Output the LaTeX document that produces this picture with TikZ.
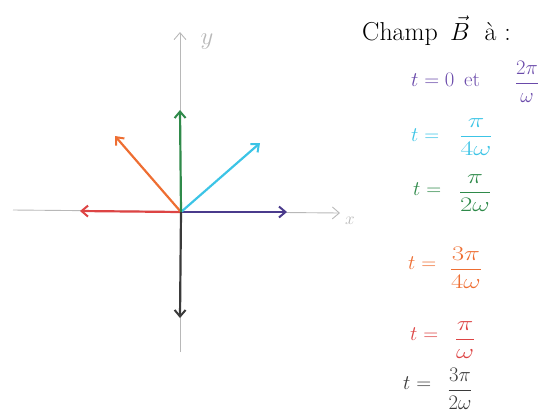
\documentclass[tikz,border=0pt]{standalone}
\usepackage{amsmath}
\usepackage{graphicx}
\usetikzlibrary{arrows.meta}
\definecolor{cpurple}{HTML}{4A3A8C}
\definecolor{tpurple}{HTML}{6A4AAA}
\definecolor{ccyan}{HTML}{3CC4E6}
\definecolor{cgreen}{HTML}{2F8A4A}
\definecolor{corange}{HTML}{EE6E32}
\definecolor{cred}{HTML}{DD4444}
\definecolor{cblack}{HTML}{3A3A3A}
\definecolor{caxis}{HTML}{B8B8B8}
\tikzset{
  axis/.style={draw=caxis, line width=0.9pt, -{Straight Barb[length=7pt,width=12pt]}},
  vec/.style={line width=2.2pt, -{Straight Barb[length=6.5pt,width=11pt,line width=2pt]}},
  lbl/.style={anchor=west, inner sep=0pt, font=\fontsize{21}{24}\selectfont},
  frc/.style={inner sep=0pt, font=\fontsize{21}{24}\selectfont},
}
\newcommand{\wfrac}[3]{\scalebox{#1}[1]{$\dfrac{#2}{#3}$}}
\begin{document}
\begin{tikzpicture}[x=1bp,y=-1bp]
\useasboundingbox (0,0) rectangle (550,417);
% axes
\coordinate (O) at (181,212);
\coordinate (xl) at (13,210);
\coordinate (xr) at (340,213);
\coordinate (yb) at (180,352);
\coordinate (yt) at (180,32);
\draw[axis] (xl) -- (xr);
\draw[axis] (yb) -- (yt);
\node[text=caxis, font=\fontsize{26}{28}\selectfont] (ylab) at (207,42) {$y$};
\node[text=caxis, font=\fontsize{17}{18}\selectfont] (xlab) at (350,221) {$x$};
% vectors
\coordinate (vp) at (287,212);
\coordinate (vc) at (260,143);
\coordinate (vg) at (180,110);
\coordinate (vo) at (115,136);
\coordinate (vr) at (80,211);
\coordinate (vk) at (180,318);
\draw[vec, cred] (O) -- (vr);
\draw[vec, cpurple] (O) -- (vp);
\draw[vec, ccyan] (O) -- (vc);
\draw[vec, corange] (O) -- (vo);
\draw[vec, cgreen] (O) -- (vg);
\draw[vec, cblack] (O) -- (vk);
% labels
\node[lbl, anchor=base west, font=\fontsize{26}{30}\selectfont] (champ) at (362,40) {Champ\, $\vec{B}$\; à :};
\node[lbl, text=tpurple] (l0) at (411,80) {$t = 0$ \,et};
\node[frc, text=tpurple] (f0) at (527,82) {$\dfrac{2\pi}{\omega}$};
\node[lbl, text=ccyan] (l1) at (411,135) {$t =$};
\node[frc, text=ccyan] (f1) at (476,137) {\wfrac{1.35}{\pi}{4\omega}};
\node[lbl, text=cgreen] (l2) at (413,189) {$t =$};
\node[frc, text=cgreen] (f2) at (475,193) {\wfrac{1.3}{\pi}{2\omega}};
\node[lbl, text=corange] (l3) at (408,263) {$t =$};
\node[frc, text=corange] (f3) at (466,268) {\wfrac{1.3}{3\pi}{4\omega}};
\node[lbl, text=cred] (l4) at (410,334) {$t =$};
\node[frc, text=cred] (f4) at (465,340) {\wfrac{1.35}{\pi}{\omega}};
\node[lbl, text=cblack] (l5) at (403,383) {$t =$};
\node[frc, text=cblack] (f5) at (460,389) {$\dfrac{3\pi}{2\omega}$};
\end{tikzpicture}
\end{document}
